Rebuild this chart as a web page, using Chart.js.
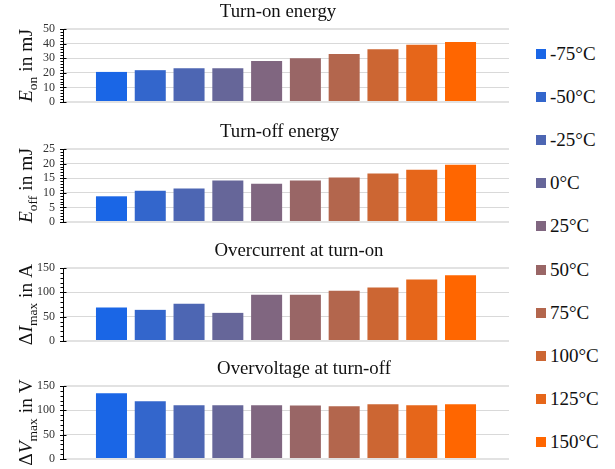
<!DOCTYPE html>
<html>
<head>
<meta charset="utf-8">
<script src="https://cdn.jsdelivr.net/npm/chart.js@4"></script>
<style>
  html, body { margin: 0; padding: 0; background: #fff; }
  #wrap { position: relative; width: 615px; height: 469px; overflow: hidden; }
  .panel { position: absolute; left: 0; width: 520px; height: 118px; }
  #legend { position: absolute; left: 536px; top: 0; width: 79px; height: 469px; }
  .item { position: absolute; left: 0; height: 22px; display: flex; align-items: center;
          font: 19px 'Liberation Serif', 'Times New Roman', serif; color: #111; white-space: nowrap; }
  .sw { width: 10px; height: 10px; margin-right: 4px; flex: none; }
</style>
</head>
<body>
<div id="wrap">
  <div class="panel" style="top:0px"><canvas id="c1"></canvas></div>
  <div class="panel" style="top:120px"><canvas id="c2"></canvas></div>
  <div class="panel" style="top:239px"><canvas id="c3"></canvas></div>
  <div class="panel" style="top:357px"><canvas id="c4"></canvas></div>
  <div id="legend"></div>
</div>
<script>
// Junction temperatures and switching results per temperature
const temperatures   = ['-75°C', '-50°C', '-25°C', '0°C', '25°C', '50°C', '75°C', '100°C', '125°C', '150°C'];
const turnOnEnergy   = [20.6, 21.8, 23.2, 23.2, 28.0, 30.0, 32.8, 36.2, 39.2, 41.1];   // mJ
const turnOffEnergy  = [8.8, 10.7, 11.5, 14.2, 13.1, 14.2, 15.2, 16.6, 17.9, 19.6];    // mJ
const overcurrentOn  = [68.8, 64.0, 76.4, 57.8, 95.0, 95.0, 103.0, 110.0, 126.6, 135.0]; // A
const overvoltageOff = [135.0, 118.5, 110.3, 110.3, 110.3, 110.0, 108.2, 112.3, 110.3, 112.3]; // V

// y-axis tick labels per panel
const onEnergyTicks  = [0, 10, 20, 30, 40, 50];
const offEnergyTicks = [0, 5, 10, 15, 20, 25];
const currentTicks   = [0, 50, 100, 150];
const voltageTicks   = [0, 50, 100, 150];

// colour ramp from cold (blue) to hot (orange)
const barColors = ['#1a66e6', '#3366cc', '#4d66b3', '#666699', '#806680',
                   '#996666', '#b3664d', '#cc6633', '#e6661a', '#ff6600'];

const SERIF = "'Liberation Serif', 'Times New Roman', serif";

// Draws panel title, rich y-axis label (italic symbol + subscript) and axis tick marks
const panelText = {
  id: 'panelText',
  afterDraw(chart, args, o) {
    const ctx = chart.ctx, a = chart.chartArea;
    ctx.save();
    ctx.fillStyle = '#111';
    ctx.textBaseline = 'alphabetic';

    // title
    ctx.font = '18.8px ' + SERIF;
    ctx.textAlign = 'center';
    ctx.fillText(o.title, o.titleX, a.top - 12);

    // rotated y label made of styled pieces
    ctx.textAlign = 'left';
    const pieces = o.yLabel.map(p => {
      const size = p.sub ? 13.5 : 19.5;
      const font = (p.italic ? 'italic ' : '') + size + 'px ' + SERIF;
      ctx.font = font;
      return { text: p.text, font, dy: p.sub ? 4.5 : 0, w: ctx.measureText(p.text).width };
    });
    const total = pieces.reduce((s, p) => s + p.w, 0);
    ctx.translate(32, (a.top + a.bottom) / 2);
    ctx.rotate(-Math.PI / 2);
    let x = -total / 2;
    pieces.forEach(p => { ctx.font = p.font; ctx.fillText(p.text, x, p.dy); x += p.w; });
    ctx.setTransform(1, 0, 0, 1, 0, 0);

    // major ticks cross the axis, minor ticks sit on its left side
    const ys = chart.scales.y;
    const ticks = o.ticks;
    const ax = Math.round(a.left) + 0.5;
    ctx.strokeStyle = '#000';
    ctx.lineWidth = 1;
    ctx.beginPath();
    for (let i = 0; i < ticks.length; i++) {
      const py = Math.round(ys.getPixelForValue(ticks[i])) + 0.5;
      ctx.moveTo(ax - 3.5, py); ctx.lineTo(ax + 3, py);
      if (i < ticks.length - 1) {
        const d = (ticks[i + 1] - ticks[i]) / 5;
        for (let k = 1; k < 5; k++) {
          const my = Math.round(ys.getPixelForValue(ticks[i] + d * k)) + 0.5;
          ctx.moveTo(ax - 3, my); ctx.lineTo(ax, my);
        }
      }
    }
    ctx.stroke();
    ctx.restore();
  }
};

function makePanel(id, values, ticks, title, titleX, yLabel) {
  const top = ticks[ticks.length - 1];
  const edge = c => c.tick && (c.tick.value === 0 || c.tick.value === top);
  return new Chart(document.getElementById(id), {
    type: 'bar',
    data: {
      datasets: [{
        data: values.map((v, i) => ({ x: i, y: v })),
        backgroundColor: barColors,
        borderWidth: 0,
        barPercentage: 0.8,
        categoryPercentage: 1.0
      }]
    },
    options: {
      animation: false,
      responsive: true,
      maintainAspectRatio: false,
      devicePixelRatio: 1,
      layout: { padding: { left: 0, right: 11, top: 29, bottom: 16 } },
      scales: {
        x: { type: 'linear', min: -1.25, max: 10.25, display: false, offset: false, grid: { offset: false } },
        y: {
          min: ticks[0],
          max: top,
          afterBuildTicks: s => { s.ticks = ticks.map(v => ({ value: v })); },
          afterFit: s => { s.width = 63; },
          border: { display: true, color: '#000', width: 1 },
          grid: {
            drawTicks: false,
            color: c => edge(c) ? '#e2e2e2' : '#d9d9d9',
            lineWidth: c => edge(c) ? 2 : 1
          },
          ticks: { padding: 8, autoSkip: false, color: '#333', font: { family: SERIF, size: 12 } }
        }
      },
      plugins: {
        legend: { display: false },
        tooltip: { enabled: false },
        title: { display: false },
        panelText: { title, titleX, yLabel, ticks }
      }
    },
    plugins: [panelText]
  });
}

makePanel('c1', turnOnEnergy, onEnergyTicks, 'Turn-on energy', 278,
  [{ text: 'E', italic: true }, { text: 'on', sub: true }, { text: ' in mJ' }]);
makePanel('c2', turnOffEnergy, offEnergyTicks, 'Turn-off energy', 279.5,
  [{ text: 'E', italic: true }, { text: 'off', sub: true }, { text: ' in mJ' }]);
makePanel('c3', overcurrentOn, currentTicks, 'Overcurrent at turn-on', 299,
  [{ text: 'Δ' }, { text: 'I', italic: true }, { text: 'max', sub: true }, { text: ' in A' }]);
makePanel('c4', overvoltageOff, voltageTicks, 'Overvoltage at turn-off', 304,
  [{ text: 'Δ' }, { text: 'V', italic: true }, { text: 'max', sub: true }, { text: ' in V' }]);

// legend: one swatch per temperature
const legend = document.getElementById('legend');
temperatures.forEach((t, i) => {
  const item = document.createElement('div');
  item.className = 'item';
  item.style.top = (54 + 43.1 * i - 11) + 'px';
  const sw = document.createElement('span');
  sw.className = 'sw';
  sw.style.background = barColors[i];
  item.appendChild(sw);
  item.appendChild(document.createTextNode(t));
  legend.appendChild(item);
});
</script>
</body>
</html>
